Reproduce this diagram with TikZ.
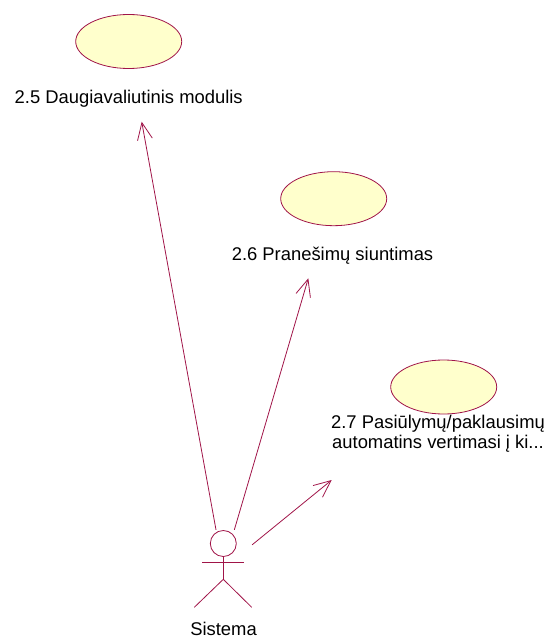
\documentclass[tikz,border=0pt]{standalone}
\usepackage{fontspec}
\setmainfont{Liberation Sans}
\usepackage{xcolor}
\usetikzlibrary{arrows.meta, positioning, shapes.geometric}
\definecolor{rosered}{RGB}{160,20,72}
\definecolor{roseyellow}{RGB}{255,255,204}
\tikzset{
    usecase/.style={ellipse, draw=rosered, fill=roseyellow, line width=0.8pt,
        minimum width=106pt, minimum height=54pt, inner sep=0pt},
    uctext/.style={anchor=base, inner sep=0pt, align=center},
    assoc/.style={-{Straight Barb[length=17pt, width=15pt]}, draw=rosered, line width=0.8pt},
    stick/.style={draw=rosered, line width=0.8pt},
    every node/.style={font=\fontsize{18.4}{20}\selectfont}
}

\begin{document}
\begin{tikzpicture}[x=1pt, y=-1pt]
    \useasboundingbox (0,0) rectangle (553,639);
    % Use cases
    \node[usecase] (uc25) at (128.7,41.5) {};
    \node[uctext] (uc25text) at (128.7,104) {2.5 Daugiavaliutinis modulis};
    \node[usecase] (uc26) at (333.7,198.7) {};
    \node[uctext] (uc26text) at (332.5,260) {2.6 Pranešimų siuntimas};
    \node[usecase] (uc27) at (443.7,387) {};
    \node[uctext] (uc27text) at (438,448) {2.7 Pasiūlymų/paklausimų\\automatins vertimasi į ki...};
    % Actor
    \node[draw=none, minimum width=58pt, minimum height=77pt, inner sep=0pt] (actor) at (223,568.5) {};
    \draw[stick] (223.3,543.5) circle (13pt);
    \draw[stick] (223.3,556.5) -- (223.3,579.3);
    \draw[stick] (202.3,562) -- (244,562);
    \draw[stick] (194.3,607.3) -- (223.3,579.3) -- (251.7,607.3);
    \node[uctext] (actortext) at (223.5,635.5) {Sistema};
    % Associations
    \coordinate (tip25) at (141.7,121.7);
    \coordinate (tip26) at (308.3,278.3);
    \coordinate (tip27) at (331.7,480);
    \draw[assoc] (actor) -- (tip25);
    \draw[assoc] (actor) -- (tip26);
    \draw[assoc] (actor) -- (tip27);
\end{tikzpicture}
\end{document}
